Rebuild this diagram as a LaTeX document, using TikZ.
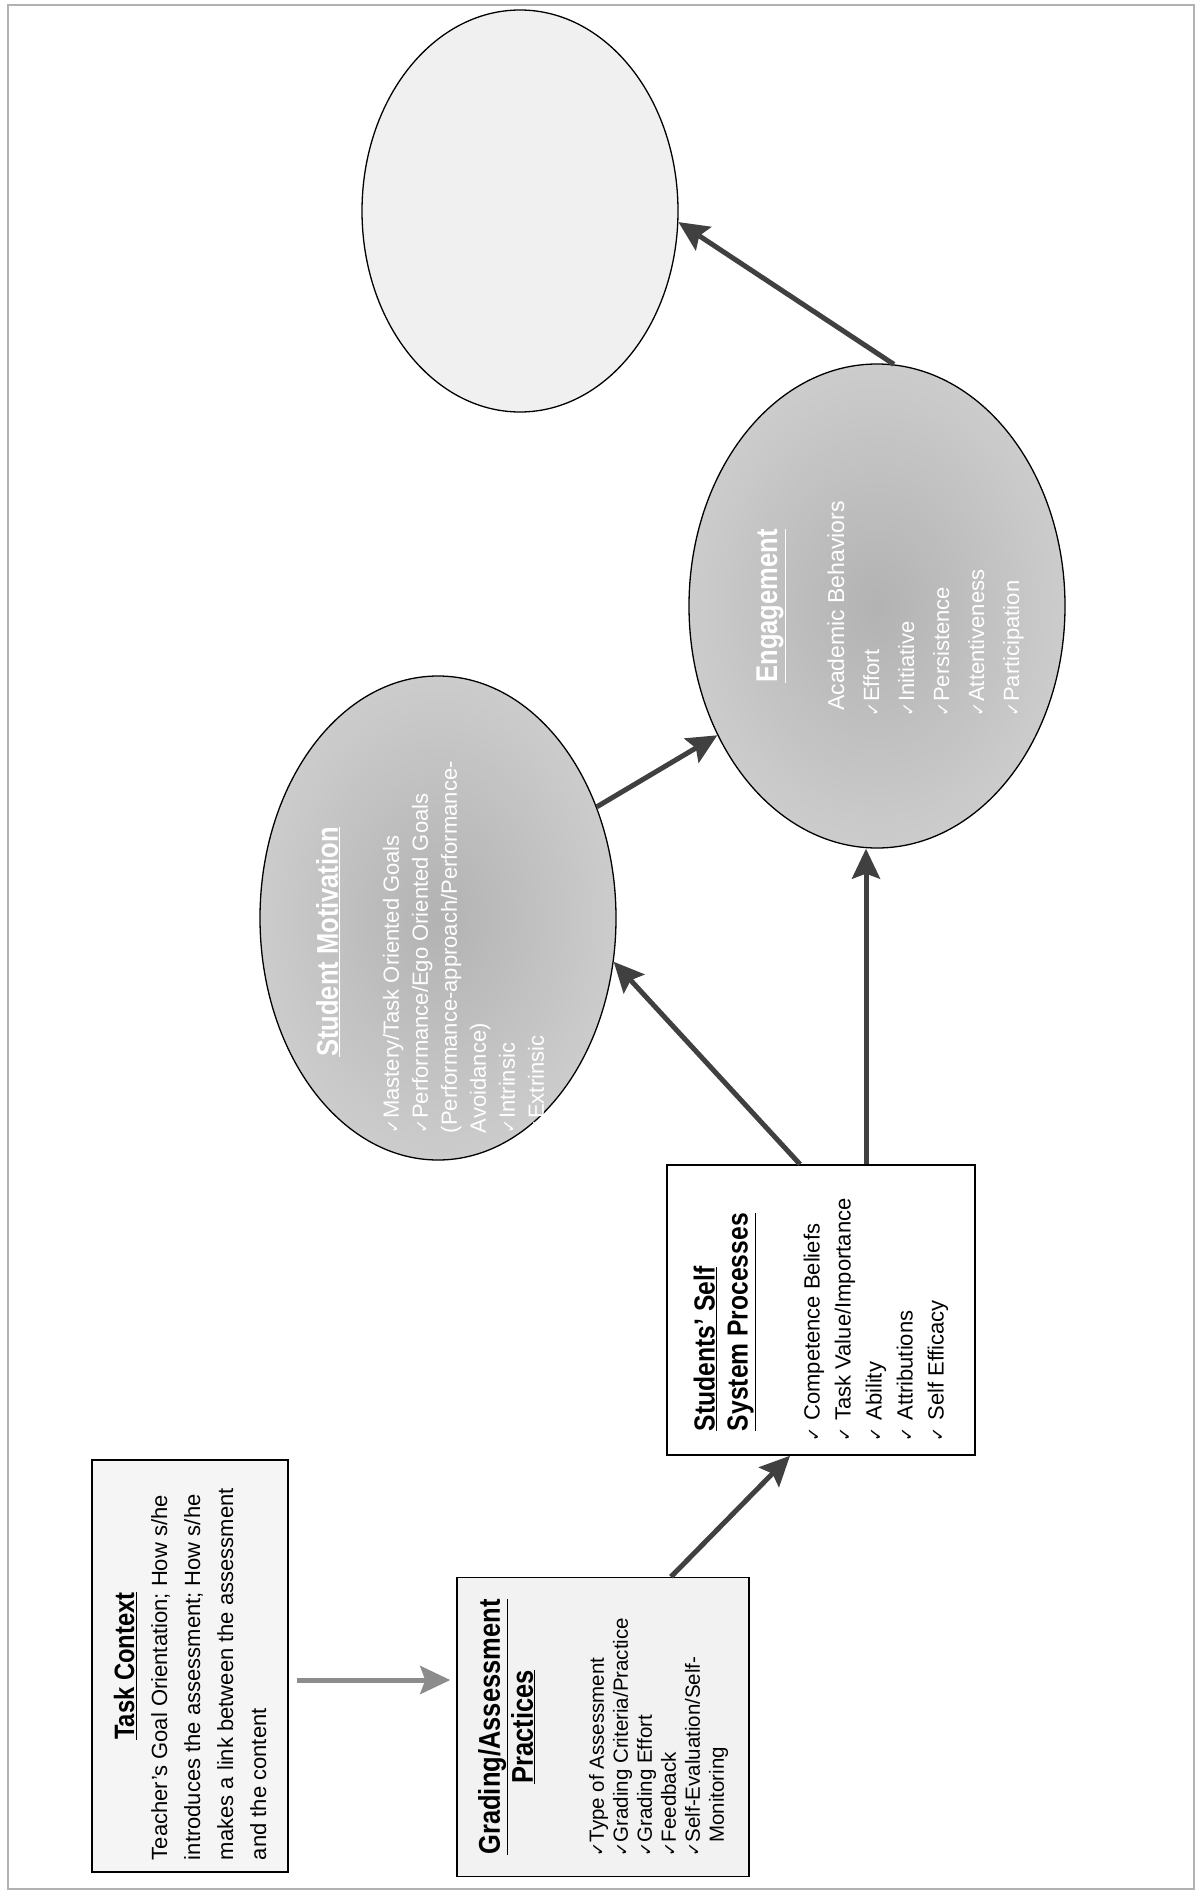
\documentclass[tikz,border=0pt]{standalone}
\usepackage{fontspec}
\setmainfont{Liberation Sans}
\newfontfamily\titlefont{Liberation Sans}[FakeStretch=0.85]
\newfontfamily\chkfont{DejaVu Sans}
\usetikzlibrary{shapes.geometric,arrows.meta,calc}
\newcommand{\ck}{{\chkfont\fontsize{17}{17}\selectfont ✓}}
\begin{document}
\begin{tikzpicture}[x=1pt,y=-1pt,
  box/.style={draw=black, line width=1.5pt, rotate=90, inner sep=0pt},
  oval/.style={draw=black, line width=1.3pt, ellipse, inner sep=0pt},
  darkoval/.style={oval, inner color=gray!60, outer color=gray!40},
  ovaltext/.style={rotate=90, text=white, inner sep=0pt},
  arr/.style={line width=5pt, draw=black!75, -{Stealth[length=30pt,width=28pt,inset=5pt]}},
  lightarr/.style={arr, draw=black!45},
]
\useasboundingbox (0,0) rectangle (1200,1894);
\draw[gray!60, line width=1.5pt] (8,5) rectangle (1194,1889);

% boxes
\node[box, fill=gray!8, minimum width=412pt, minimum height=196pt] (task) at (190,1666)
 {\parbox{388pt}{{\centering\titlefont\bfseries\fontsize{28}{33}\selectfont\underline{Task Context}\par}%
 \raggedright\fontsize{22}{33}\selectfont Teacher's Goal Orientation; How s/he\\
 introduces the assessment; How s/he\\
 makes a link between the assessment\\
 and the content}};

\node[box, fill=gray!10, minimum width=299pt, minimum height=292pt] (grad) at (603,1727)
 {\parbox{279pt}{{\centering\titlefont\bfseries\fontsize{30}{33}\selectfont\underline{Grading/Assessment}\\\underline{Practices}\par}%
 \vspace{47pt}\raggedright\leftskip=10pt\fontsize{20.5}{24}\selectfont
 \ck Type of Assessment\\
 \ck Grading Criteria/Practice\\
 \ck Grading Effort\\
 \ck Feedback\\
 \ck Self-Evaluation/Self-\\
 \hspace*{14pt}Monitoring}};

\node[box, fill=white, minimum width=290pt, minimum height=308pt] (stud) at (821,1310)
 {\parbox{262pt}{{\raggedright\titlefont\bfseries\fontsize{29}{33}\selectfont\hspace*{10pt}\underline{Students’ Self}\\\hspace*{10pt}\underline{System Processes}\par}%
 \vspace{41pt}\raggedright\fontsize{22}{31}\selectfont
 \ck\ Competence Beliefs\\
 \ck\ Task Value/Importance\\
 \ck\ Ability\\
 \ck\ Attributions\\
 \ck\ Self Efficacy}};

% ellipses
\node[darkoval, minimum width=356pt, minimum height=484pt] (mot) at (438,918) {};
\node[darkoval, minimum width=376pt, minimum height=484pt] (eng) at (877,606) {};
\node[oval, fill=gray!12, minimum width=316pt, minimum height=402pt] (out) at (520,211) {};

\node[ovaltext] (motT) at ($(mot)+(-8,24)$)
 {\parbox{382pt}{{\centering\titlefont\bfseries\fontsize{30}{32}\selectfont\underline{Student Motivation}\par}%
 \vspace{32pt}\raggedright\fontsize{22}{29}\selectfont
 \ck Mastery/Task Oriented Goals\\
 \ck Performance/Ego Oriented Goals\\
 (Performance-approach/Performance-\\
 Avoidance)\\
 \ck Intrinsic\\
 \ck Extrinsic}};

\node[ovaltext] (engT) at ($(eng)+(13,0)$)
 {\parbox{220pt}{{\centering\titlefont\bfseries\fontsize{30}{33}\selectfont\underline{Engagement}\par}%
 \vspace{34pt}{\centering\fontsize{23}{33}\selectfont Academic Behaviors\par}%
 \raggedright\fontsize{22}{35}\selectfont
 \ck Effort\\
 \ck Initiative\\
 \ck Persistence\\
 \ck Attentiveness\\
 \ck Participation}};

% connectors
\coordinate (ya) at (0,1680);
\coordinate (xb) at (671,0);
\coordinate (xc) at (790,0);
\coordinate (xd) at (800,0);
\coordinate (xe) at (866,0);
\draw[lightarr, shorten <=8pt, shorten >=6pt] (task.south |- ya) -- (grad.north |- ya);
\draw[arr] (grad.east -| xb) -- (stud.west -| xc);
\draw[arr] (stud.east -| xd) -- (mot.346);
\draw[arr] (stud.east -| xe) -- (eng.south -| xe);
\draw[arr] (mot.35) -- (eng.219);
\draw[arr] (eng.86) -- (out.356);
\end{tikzpicture}
\end{document}
